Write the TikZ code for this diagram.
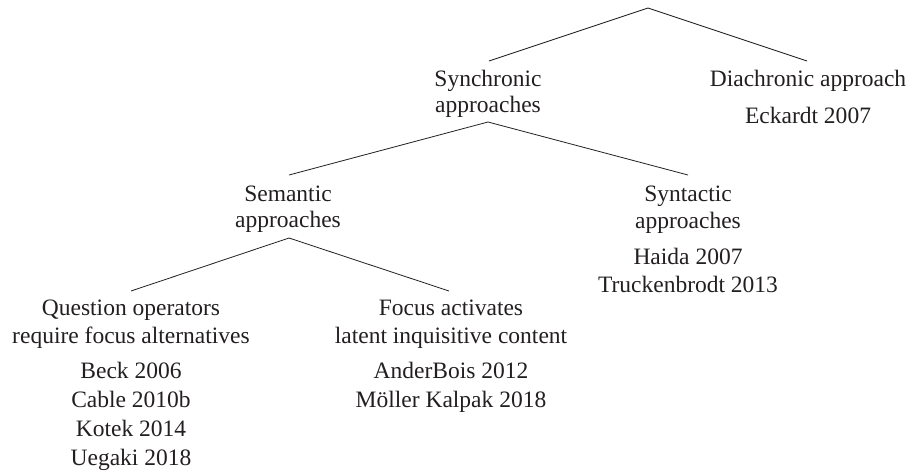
\documentclass[tikz,border=0pt]{standalone}
\usepackage{fontspec}
\setmainfont{Liberation Serif}
\definecolor{ink}{RGB}{35,31,32}
\begin{document}
\begin{tikzpicture}[x=1pt,y=-1pt,
  lbl/.style={anchor=base, inner sep=0pt, text=ink, font=\fontsize{23.5}{27}\selectfont},
  branch/.style={draw=ink, line width=0.8pt}]
\useasboundingbox (0,0) rectangle (912,474);
% tree joints
\coordinate (root) at (648,8);
\coordinate (synTop) at (489,61);
\coordinate (diaTop) at (807,61);
\coordinate (synBot) at (488,122);
\coordinate (semTop) at (289,175);
\coordinate (sytTop) at (688,175);
\coordinate (semBot) at (289,238);
\coordinate (qTop) at (131,291);
\coordinate (fTop) at (449,291);
% labels
\node[lbl] (syn1) at (488,86) {Synchronic};
\node[lbl] (syn2) at (488,112) {approaches};
\node[lbl] (dia1) at (808,86) {Diachronic approach};
\node[lbl] (dia2) at (808,123) {Eckardt 2007};
\node[lbl] (sem1) at (288,201) {Semantic};
\node[lbl] (sem2) at (288,227) {approaches};
\node[lbl] (syt1) at (688,201) {Syntactic};
\node[lbl] (syt2) at (688,228) {approaches};
\node[lbl] (syt3) at (688,264) {Haida 2007};
\node[lbl] (syt4) at (688,292) {Truckenbrodt 2013};
\node[lbl] (q1) at (131,315) {Question operators};
\node[lbl] (q2) at (131,343) {require focus alternatives};
\node[lbl] (q3) at (131,378) {Beck 2006};
\node[lbl] (q4) at (131,407) {Cable 2010b};
\node[lbl] (q5) at (131,436) {Kotek 2014};
\node[lbl] (q6) at (131,465) {Uegaki 2018};
\node[lbl] (f1) at (451,315) {Focus activates};
\node[lbl] (f2) at (451,343) {latent inquisitive content};
\node[lbl] (f3) at (451,378) {AnderBois 2012};
\node[lbl] (f4) at (451,407) {Möller Kalpak 2018};
% branches
\draw[branch] (synTop) -- (root) -- (diaTop);
\draw[branch] (semTop) -- (synBot) -- (sytTop);
\draw[branch] (qTop) -- (semBot) -- (fTop);
\end{tikzpicture}
\end{document}
